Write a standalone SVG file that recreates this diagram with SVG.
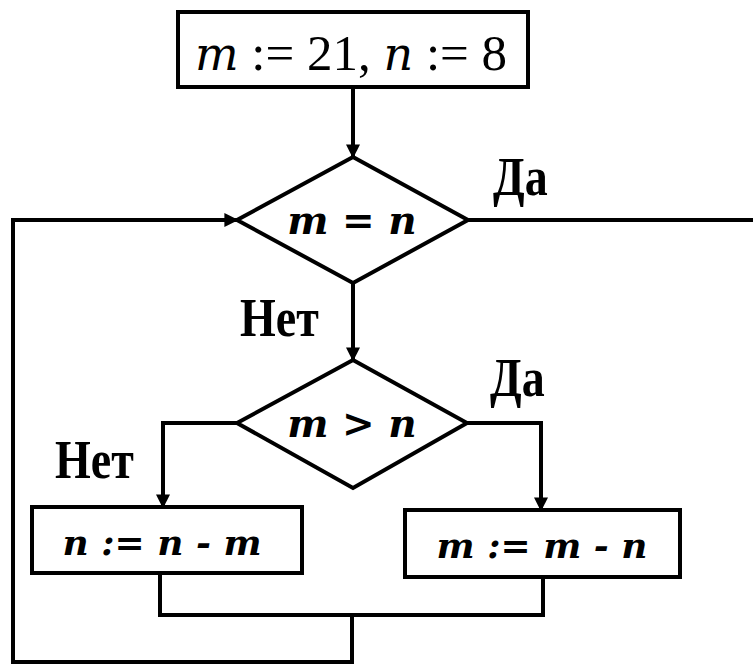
<svg xmlns="http://www.w3.org/2000/svg" width="753" height="665" viewBox="0 0 753 665">
<style>
.shape{fill:none;stroke:#000;stroke-width:4;stroke-linejoin:miter}
.line{fill:none;stroke:#000;stroke-width:4}
.expr{font-family:"DejaVu Serif","Liberation Serif",serif;font-style:italic;font-weight:bold;fill:#000;text-anchor:middle}
.var{font-family:"DejaVu Serif","Liberation Serif",serif;font-style:italic}
.lbl{font-family:"Liberation Serif","DejaVu Serif",serif;fill:#000}
.yn{font-family:"Liberation Serif","DejaVu Serif",serif;font-weight:bold;fill:#000}
</style>
<defs>
<marker id="ah" viewBox="0 0 10 10" refX="9" refY="5" markerWidth="3.5" markerHeight="3.5" orient="auto" markerUnits="strokeWidth">
<path d="M0,0 L10,5 L0,10 z" fill="#000"/>
</marker>
</defs>
<rect width="753" height="665" fill="#fff"/>
<g id="connectors">
<line class="line" x1="353" y1="87" x2="353" y2="157" marker-end="url(#ah)"/>
<line class="line" x1="468" y1="220" x2="753" y2="220"/>
<polyline class="line" points="352,615 352,662 13,662 13,220 237,220" marker-end="url(#ah)"/>
<line class="line" x1="353" y1="283" x2="353" y2="360" marker-end="url(#ah)"/>
<polyline class="line" points="237,423 163,423 163,507" marker-end="url(#ah)"/>
<polyline class="line" points="467,423 541,423 541,510" marker-end="url(#ah)"/>
<polyline class="line" points="160,573 160,615 543,615 543,577"/>
</g>
<g id="start">
<rect class="shape" x="178" y="12" width="350" height="75"/>
<text class="lbl" x="351" y="70" font-size="51" text-anchor="middle"><tspan class="var" font-size="46">m</tspan> := 21, <tspan class="var" font-size="46">n</tspan> := 8</text>
</g>
<g id="cond1">
<polygon class="shape" points="353,157 468,220 353,283 237,220"/>
<text class="expr" x="352" y="234" font-size="39">m = n</text>
</g>
<g id="cond2">
<polygon class="shape" points="353,360 467,423 353,488 237,423"/>
<text class="expr" x="352" y="437" font-size="39">m &gt; n</text>
</g>
<g id="box-left">
<rect class="shape" x="32" y="507" width="270" height="66"/>
<text class="expr" x="162" y="555" font-size="36">n := n - m</text>
</g>
<g id="box-right">
<rect class="shape" x="405" y="510" width="275" height="67"/>
<text class="expr" x="542" y="558" font-size="36">m := m - n</text>
</g>
<g id="labels">
<text class="yn" x="493" y="195" font-size="46" transform="translate(493 195) scale(1 1.2) translate(-493 -195)">Да</text>
<text class="yn" x="240" y="336" font-size="46" transform="translate(240 336) scale(1 1.2) translate(-240 -336)">Нет</text>
<text class="yn" x="490" y="396" font-size="46" transform="translate(490 396) scale(1 1.2) translate(-490 -396)">Да</text>
<text class="yn" x="55" y="478" font-size="46" transform="translate(55 478) scale(1 1.2) translate(-55 -478)">Нет</text>
</g>
</svg>
